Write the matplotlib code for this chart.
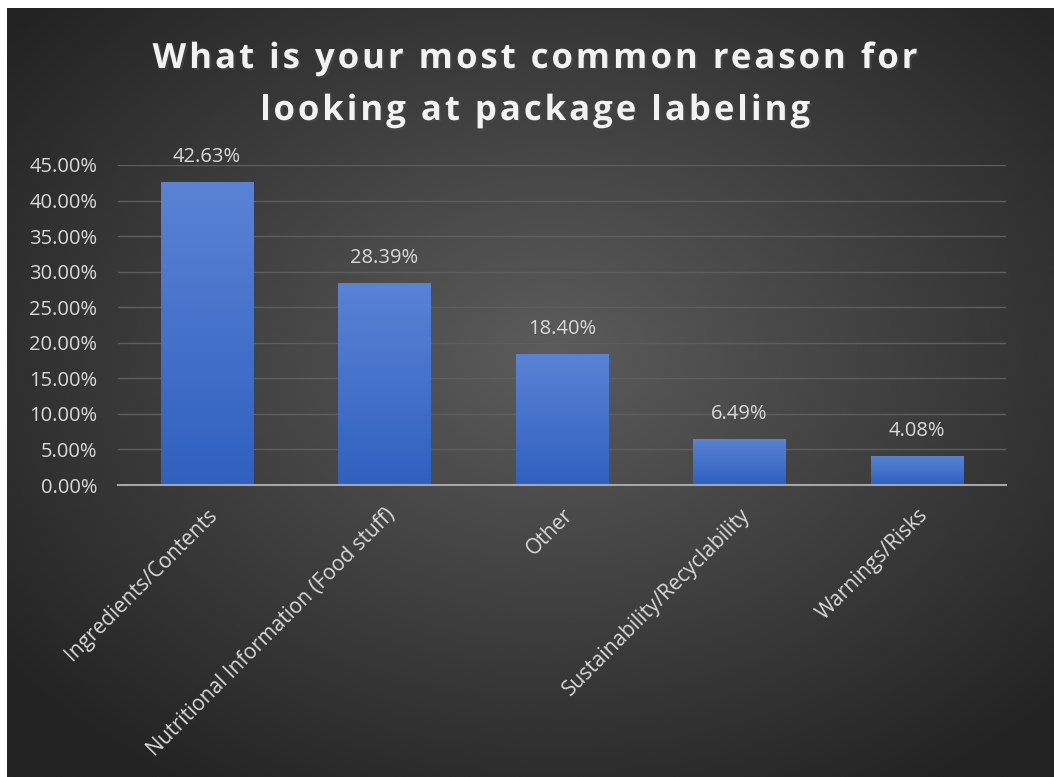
import matplotlib.pyplot as plt
import matplotlib.patheffects as pe
from matplotlib.colors import LinearSegmentedColormap
from matplotlib.font_manager import FontProperties
import numpy as np

# --- data ---
categories = ["Ingredients/Contents", "Nutritional Information (Food stuff)",
              "Other", "Sustainability/Recyclability", "Warnings/Risks"]
values = [42.63, 28.39, 18.40, 6.49, 4.08]
yticks = [0, 5, 10, 15, 20, 25, 30, 35, 40, 45]
title_lines = ["What is your most common reason for", "looking at package labeling"]

plt.rcParams['font.family'] = ['Open Sans', 'DejaVu Sans']

fig = plt.figure(figsize=(10.54, 7.77), dpi=100, facecolor="white")

# fond : dégradé radial sombre
bg = fig.add_axes([7 / 1054, 0, 1 - 7 / 1054, 1 - 8 / 777])
bg.set_axis_off()
yy, xx = np.mgrid[0:1:400j, 0:1:540j]
r = np.sqrt(((xx - 0.52) / 0.72) ** 2 + ((yy - 0.45) / 0.72) ** 2)
shade = np.clip(0.36 - 0.24 * r, 0.14, 0.36)
bg.imshow(shade, cmap="gray", vmin=0, vmax=1, extent=[0, 1, 0, 1],
          aspect="auto", interpolation="bicubic")
bg.set_xlim(0, 1)
bg.set_ylim(0, 1)

ax = fig.add_axes([118 / 1054, 1 - 485 / 777, (1006 - 118) / 1054, 320 / 777])
ax.patch.set_alpha(0)
x = np.arange(len(categories))
bars = ax.bar(x, values, width=0.52, color="#4472C4", zorder=2)

# dégradé vertical dans chaque barre
grad = np.linspace(0, 1, 256).reshape(-1, 1)
cmap = LinearSegmentedColormap.from_list("b", ["#2f60bf", "#5a83d5"])
for b in bars:
    x0, w, h = b.get_x(), b.get_width(), b.get_height()
    im = ax.imshow(grad, cmap=cmap, extent=[x0, x0 + w, 0, h], origin="lower",
                   aspect="auto", zorder=3)
    im.set_clip_path(b)

for xi, v in zip(x, values):
    ax.annotate(f"{v:.2f}%", (xi, v), xytext=(0, 11), textcoords="offset points",
                ha="center", va="bottom", fontsize=14.5, color="#d9d9d9", zorder=4)

ax.set_xlim(-0.5, len(categories) - 0.5)
ax.set_ylim(0, 45)
ax.set_yticks(yticks)
ax.set_yticklabels([f"{t:.2f}%" for t in yticks], fontsize=14.5, color="#d9d9d9")
ax.set_xticks(x)
ax.set_xticklabels(categories, rotation=45, ha="right", rotation_mode="anchor",
                   fontsize=15, color="#d9d9d9")
ax.tick_params(length=0, axis="both")
ax.tick_params(axis="y", pad=15)
ax.tick_params(axis="x", pad=14)
ax.grid(axis="y", color="#5e5e5e", linewidth=1, zorder=0)
for s in ["top", "right", "left"]:
    ax.spines[s].set_visible(False)
ax.spines["bottom"].set_color("#a6a6a6")
ax.spines["bottom"].set_linewidth(1.5)
ax.spines["bottom"].set_zorder(5)

# titre avec espacement des lettres (lettre par lettre)
fp = FontProperties(family="Open Sans", weight="bold", size=25)
renderer = fig.canvas.get_renderer()
def largeur(s):
    return renderer.get_text_width_height_descent(s, fp, ismath=False)[0]

tracking = 3.0
shadow = [pe.withSimplePatchShadow(offset=(1.5, -1.5), alpha=0.6)]
for i, line in enumerate(title_lines):
    total = largeur(line) + tracking * (len(line) - 1)
    x_start = 535 - total / 2
    y = 1 - (68 + 52 * i) / 777
    for k, ch in enumerate(line):
        if ch == " ":
            continue
        xk = largeur(line[:k + 1]) - largeur(ch) + tracking * k
        fig.text((x_start + xk) / 1054, y, ch, ha="left", va="baseline",
                 fontproperties=fp, color="#f2f2f2", path_effects=shadow)

fig.savefig("out.png", dpi=100, facecolor=fig.get_facecolor())
